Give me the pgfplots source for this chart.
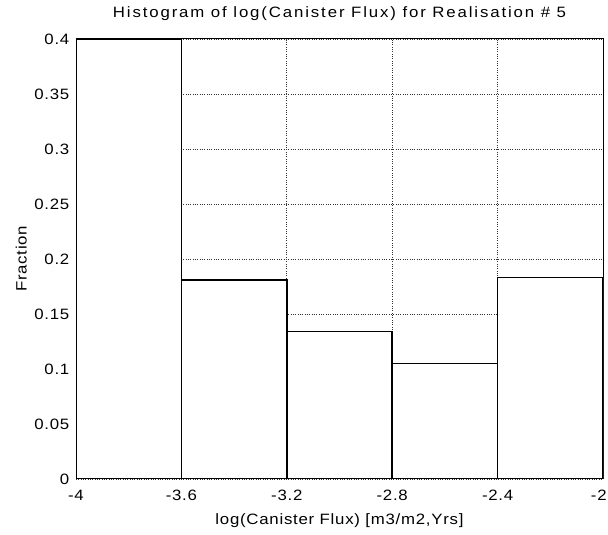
\documentclass[border=0pt]{standalone}
\usepackage{fontspec}
\setmainfont[FakeStretch=1.12, LetterSpace=5]{Liberation Sans}
\newfontfamily\titlefont[FakeStretch=1.12, LetterSpace=12.5]{Liberation Sans}
\usepackage{pgfplots}
\pgfplotsset{compat=1.18}
\begin{document}
\begin{tikzpicture}
\useasboundingbox (-45.6pt,-33.6pt) rectangle (319.2pt,287.4pt);
\begin{axis}[
  at={(0,0)}, anchor=south west,
  scale only axis,
  width=316.2pt, height=264pt,
  xmin=-4, xmax=-2, ymin=0, ymax=0.4,
  xtick={-4,-3.6,-3.2,-2.8,-2.4,-2},
  xticklabels={-4,-3.6,-3.2,-2.8,-2.4,{\kern-5pt-2}},
  ytick={0,0.05,0.1,0.15,0.2,0.25,0.3,0.35,0.4},
  yticklabels={0,0.05,0.1,0.15,0.2,0.25,0.3,0.35,0.4},
  major tick length=0pt,
  tick label style={font=\fontsize{9}{10}\selectfont},
  xticklabel style={yshift=-3pt},
  yticklabel style={xshift=-0.5pt},
  grid=major,
  major grid style={densely dotted, line width=0.45pt, black!80},
  axis line style={line width=0.6pt, black},
  title={Histogram of log(Canister Flux) for Realisation \# 5},
  title style={at={(axis description cs:0.5,1)}, anchor=base, yshift=7.2pt, font=\titlefont\fontsize{9}{10}\selectfont},
  xlabel={log(Canister Flux) [m3/m2,Yrs]},
  xlabel style={at={(axis description cs:0.5,0)}, anchor=center, yshift=-25pt, font=\fontsize{9}{10}\selectfont},
  ylabel={Fraction},
  ylabel style={at={(axis description cs:-0.104,0.5)}, anchor=center, font=\fontsize{9}{10}\selectfont},
]
\addplot[ybar interval, fill=white, draw=black, line width=0.9pt]
  coordinates {(-4,0.4) (-3.6,0.181) (-3.2,0.134) (-2.8,0.105) (-2.4,0.183) (-2,0.183)};
\end{axis}
\end{tikzpicture}
\end{document}
